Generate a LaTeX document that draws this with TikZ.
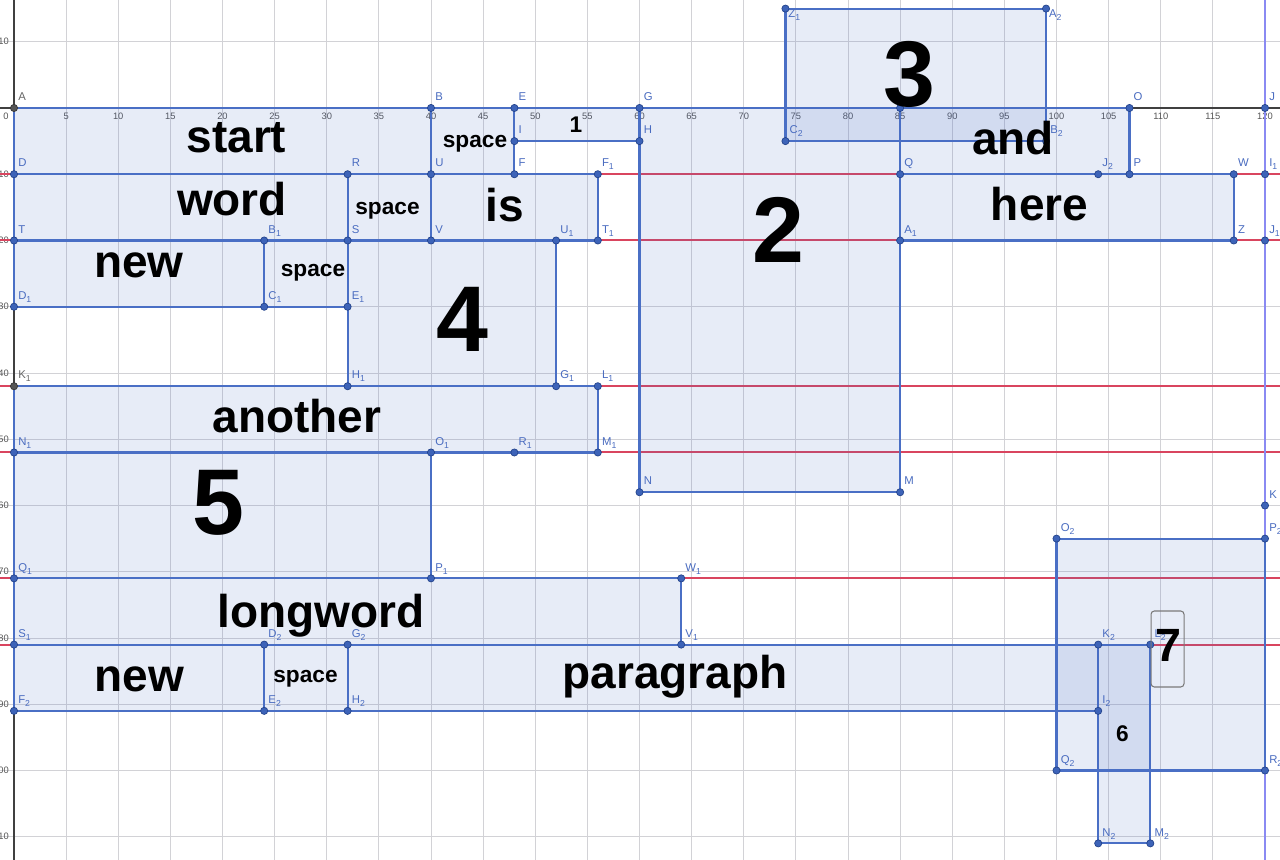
\documentclass[tikz,border=0pt]{standalone}
\usepackage{fontspec}
\setmainfont{Liberation Sans}
\definecolor{gridc}{HTML}{D2D2D6}
\definecolor{axisc}{HTML}{404040}
\definecolor{tickc}{HTML}{555555}
\definecolor{redc}{HTML}{D9455F}
\definecolor{vlinec}{HTML}{8A8AF2}
\definecolor{polyc}{HTML}{4A6FC5}
\definecolor{fillc}{HTML}{3F66C4}
\definecolor{ptc}{HTML}{3D63B8}
\definecolor{ptd}{HTML}{22428A}
\definecolor{gptc}{HTML}{555555}
\definecolor{gptd}{HTML}{333333}
\definecolor{lblc}{HTML}{4A6CC0}
\definecolor{glblc}{HTML}{666666}
\definecolor{boxc}{HTML}{7A7A7A}
\newcommand\psub[1]{\raisebox{-0.5ex}{\fontsize{6.5}{6.5}\selectfont #1}}
\begin{document}
\begin{tikzpicture}[x=7.81875pt,y=4.96875pt,
  gridl/.style={draw=gridc, line width=0.6pt},
  axisl/.style={draw=axisc, line width=0.8pt},
  redl/.style={draw=redc, line width=1.5pt},
  vline/.style={draw=vlinec, line width=1.1pt},
  poly/.style={fill=fillc, fill opacity=0.12, draw=polyc, line width=1.6pt, line join=round},
  bigword/.style={anchor=base, inner sep=0, font=\bfseries\fontsize{34.5}{34.5}\selectfont},
  bignum/.style={anchor=base, inner sep=0, font=\bfseries\fontsize{70}{70}\selectfont},
  midnum/.style={anchor=base, inner sep=0, font=\bfseries\fontsize{35}{35}\selectfont},
  smallword/.style={anchor=base, inner sep=0, font=\bfseries\fontsize{17}{17}\selectfont},
  ticklbl/.style={inner sep=0, text=tickc, font=\fontsize{7}{7}\selectfont},
  ptdot/.style={fill=ptc, draw=ptd, line width=0.5pt},
  gptdot/.style={fill=gptc, draw=gptd, line width=0.5pt},
  ptlbl/.style={anchor=base west, inner sep=0, xshift=3pt, yshift=5.5pt, text=lblc, font=\fontsize{8.5}{8.5}\selectfont},
  box7/.style={draw=boxc, line width=0.8pt, rounded corners=2.5pt, inner sep=0, minimum width=24.75pt, minimum height=57pt}
]
\useasboundingbox (-1.343,-113.51) rectangle (121.44,16.30);
\clip (-1.343,-113.51) rectangle (121.44,16.30);
\fill[white] (-1.343,-113.51) rectangle (121.44,16.30);

% grid
\foreach \x in {0,5,...,120} \draw[gridl] (\x,17) -- (\x,-114);
\foreach \y in {10,0,...,-110} \draw[gridl] (-2,\y) -- (123,\y);
% axes
\draw[axisl] (-2,0) -- (123,0);
\draw[axisl] (0,17) -- (0,-114);
% tick labels
\node[ticklbl] (tx0) at (-0.77,-1.21) {0};
\foreach \x in {5,10,...,120} \node[ticklbl] (tx\x) at (\x,-1.21) {\x};
\node[ticklbl, anchor=east] (ty10) at (-0.48,10) {10};
\foreach \y in {10,20,...,110} \node[ticklbl, anchor=east] (tym\y) at (-0.48,-\y) {−\y};

% red horizontal lines and the vertical line x = 120
\foreach \y in {-10,-20,-42,-52,-71,-81} \draw[redl] (-2,\y) -- (123,\y);
\draw[vline] (120,17) -- (120,-114);

% points
\coordinate (A) at (0,0);   \coordinate (B) at (40,0);  \coordinate (E) at (48,0);
\coordinate (G) at (60,0);  \coordinate (X85) at (85,0); \coordinate (O) at (107,0);
\coordinate (J) at (120,0);
\coordinate (Z1) at (74,15); \coordinate (A2) at (99,15);
\coordinate (C2) at (74,-5); \coordinate (B2) at (99,-5);
\coordinate (I) at (48,-5);  \coordinate (H) at (60,-5);
\coordinate (D) at (0,-10);  \coordinate (R) at (32,-10); \coordinate (U) at (40,-10);
\coordinate (F) at (48,-10); \coordinate (F1) at (56,-10); \coordinate (Q) at (85,-10);
\coordinate (J2) at (104,-10); \coordinate (P) at (107,-10); \coordinate (W) at (117,-10);
\coordinate (I1) at (120,-10);
\coordinate (T) at (0,-20);  \coordinate (B1) at (24,-20); \coordinate (S) at (32,-20);
\coordinate (V) at (40,-20); \coordinate (U1) at (52,-20); \coordinate (T1) at (56,-20);
\coordinate (A1) at (85,-20); \coordinate (Z) at (117,-20); \coordinate (J1) at (120,-20);
\coordinate (D1) at (0,-30); \coordinate (C1) at (24,-30); \coordinate (E1) at (32,-30);
\coordinate (K1) at (0,-42); \coordinate (H1) at (32,-42); \coordinate (G1) at (52,-42);
\coordinate (L1) at (56,-42);
\coordinate (N1) at (0,-52); \coordinate (O1) at (40,-52); \coordinate (R1) at (48,-52);
\coordinate (M1) at (56,-52);
\coordinate (N) at (60,-58); \coordinate (M) at (85,-58);
\coordinate (K) at (120,-60); \coordinate (O2) at (100,-65); \coordinate (P2) at (120,-65);
\coordinate (Q1) at (0,-71); \coordinate (P1) at (40,-71); \coordinate (W1) at (64,-71);
\coordinate (S1) at (0,-81); \coordinate (D2) at (24,-81); \coordinate (G2) at (32,-81);
\coordinate (V1) at (64,-81); \coordinate (K2) at (104,-81); \coordinate (L2) at (109,-81);
\coordinate (F2) at (0,-91); \coordinate (E2) at (24,-91); \coordinate (H2) at (32,-91);
\coordinate (I2) at (104,-91);
\coordinate (Q2) at (100,-100); \coordinate (R2) at (120,-100);
\coordinate (N2) at (104,-111); \coordinate (M2) at (109,-111);

% polygons
\draw[poly] (A) -- (B) -- (U) -- (D) -- cycle;
\draw[poly] (B) -- (E) -- (F) -- (U) -- cycle;
\draw[poly] (E) -- (G) -- (H) -- (I) -- cycle;
\draw[poly] (G) -- (X85) -- (M) -- (N) -- cycle;
\draw[poly] (Z1) -- (A2) -- (B2) -- (C2) -- cycle;
\draw[poly] (X85) -- (O) -- (P) -- (Q) -- cycle;
\draw[poly] (D) -- (R) -- (S) -- (T) -- cycle;
\draw[poly] (R) -- (U) -- (V) -- (S) -- cycle;
\draw[poly] (U) -- (F1) -- (T1) -- (V) -- cycle;
\draw[poly] (Q) -- (W) -- (Z) -- (A1) -- cycle;
\draw[poly] (T) -- (B1) -- (C1) -- (D1) -- cycle;
\draw[poly] (B1) -- (S) -- (E1) -- (C1) -- cycle;
\draw[poly] (S) -- (U1) -- (G1) -- (H1) -- cycle;
\draw[poly] (K1) -- (L1) -- (M1) -- (N1) -- cycle;
\draw[poly] (N1) -- (O1) -- (P1) -- (Q1) -- cycle;
\draw[poly] (Q1) -- (W1) -- (V1) -- (S1) -- cycle;
\draw[poly] (S1) -- (D2) -- (E2) -- (F2) -- cycle;
\draw[poly] (D2) -- (G2) -- (H2) -- (E2) -- cycle;
\draw[poly] (G2) -- (K2) -- (I2) -- (H2) -- cycle;
\draw[poly] (K2) -- (L2) -- (M2) -- (N2) -- cycle;
\draw[poly] (O2) -- (P2) -- (R2) -- (Q2) -- cycle;

% point dots and labels
\foreach \p/\t in {B/B, E/E, G/G, O/O, J/J, C2/C\psub{2}, B2/B\psub{2}, I/I, H/H,
  D/D, R/R, U/U, F/F, F1/F\psub{1}, Q/Q, J2/J\psub{2}, P/P, W/W, I1/I\psub{1},
  T/T, B1/B\psub{1}, S/S, V/V, U1/U\psub{1}, T1/T\psub{1}, A1/A\psub{1}, Z/Z, J1/J\psub{1},
  D1/D\psub{1}, C1/C\psub{1}, E1/E\psub{1}, H1/H\psub{1}, G1/G\psub{1}, L1/L\psub{1},
  N1/N\psub{1}, O1/O\psub{1}, R1/R\psub{1}, M1/M\psub{1}, N/N, M/M, K/K, O2/O\psub{2}, P2/P\psub{2},
  Q1/Q\psub{1}, P1/P\psub{1}, W1/W\psub{1}, S1/S\psub{1}, D2/D\psub{2}, G2/G\psub{2}, V1/V\psub{1},
  K2/K\psub{2}, L2/L\psub{2}, F2/F\psub{2}, E2/E\psub{2}, H2/H\psub{2}, I2/I\psub{2},
  Q2/Q\psub{2}, R2/R\psub{2}, N2/N\psub{2}, M2/M\psub{2}}
{
  \fill[ptdot] (\p) circle (2.7pt);
  \node[ptlbl] (l\p) at (\p) {\t};
}
\fill[ptdot] (X85) circle (2.7pt);
\foreach \p/\t in {Z1/Z\psub{1}, A2/A\psub{2}}
{
  \fill[ptdot] (\p) circle (2.7pt);
  \node[ptlbl, xshift=-1pt, yshift=-12pt] (l\p) at (\p) {\t};
}
\foreach \p/\t in {A/A, K1/K\psub{1}}
{
  \fill[gptdot] (\p) circle (2.7pt);
  \node[ptlbl, text=glblc] (l\p) at (\p) {\t};
}

% texts
\node[bigword] (wstart) at (21.34,-6.79) {start};
\node[bigword] (wword) at (20.91,-16.30) {word};
\node[bigword] (wnew1) at (11.99,-25.66) {new};
\node[smallword] (wsp1) at (44.22,-5.89) {space};
\node[smallword] (n1) at (53.91,-3.77) {1};
\node[smallword] (wsp2) at (35.83,-16.15) {space};
\node[bigword] (wis) at (47.10,-17.21) {is};
\node[smallword] (wsp3) at (28.68,-25.51) {space};
\node[bignum] (n4) at (43.02,-36.83) {4};
\node[bigword] (wanother) at (27.15,-48.91) {another};
\node[bignum] (n5) at (19.62,-64.45) {5};
\node[bigword] (wlong) at (29.45,-78.49) {longword};
\node[bigword] (wnew2) at (12.04,-88.15) {new};
\node[smallword] (wsp4) at (27.96,-86.79) {space};
\node[bigword] (wpara) at (63.40,-87.55) {paragraph};
\node[bignum] (n2) at (73.33,-23.25) {2};
\node[bignum] (n3) at (85.90,0.15) {3};
\node[bigword] (wand) at (95.83,-7.09) {and};
\node[bigword] (where) at (98.37,-16.91) {here};
\node[smallword] (n6) at (106.33,-95.55) {6};
\node[box7] (b7) at (110.65,-81.66) {};
\node[midnum] (n7) at (110.70,-83.62) {7};
\end{tikzpicture}
\end{document}
